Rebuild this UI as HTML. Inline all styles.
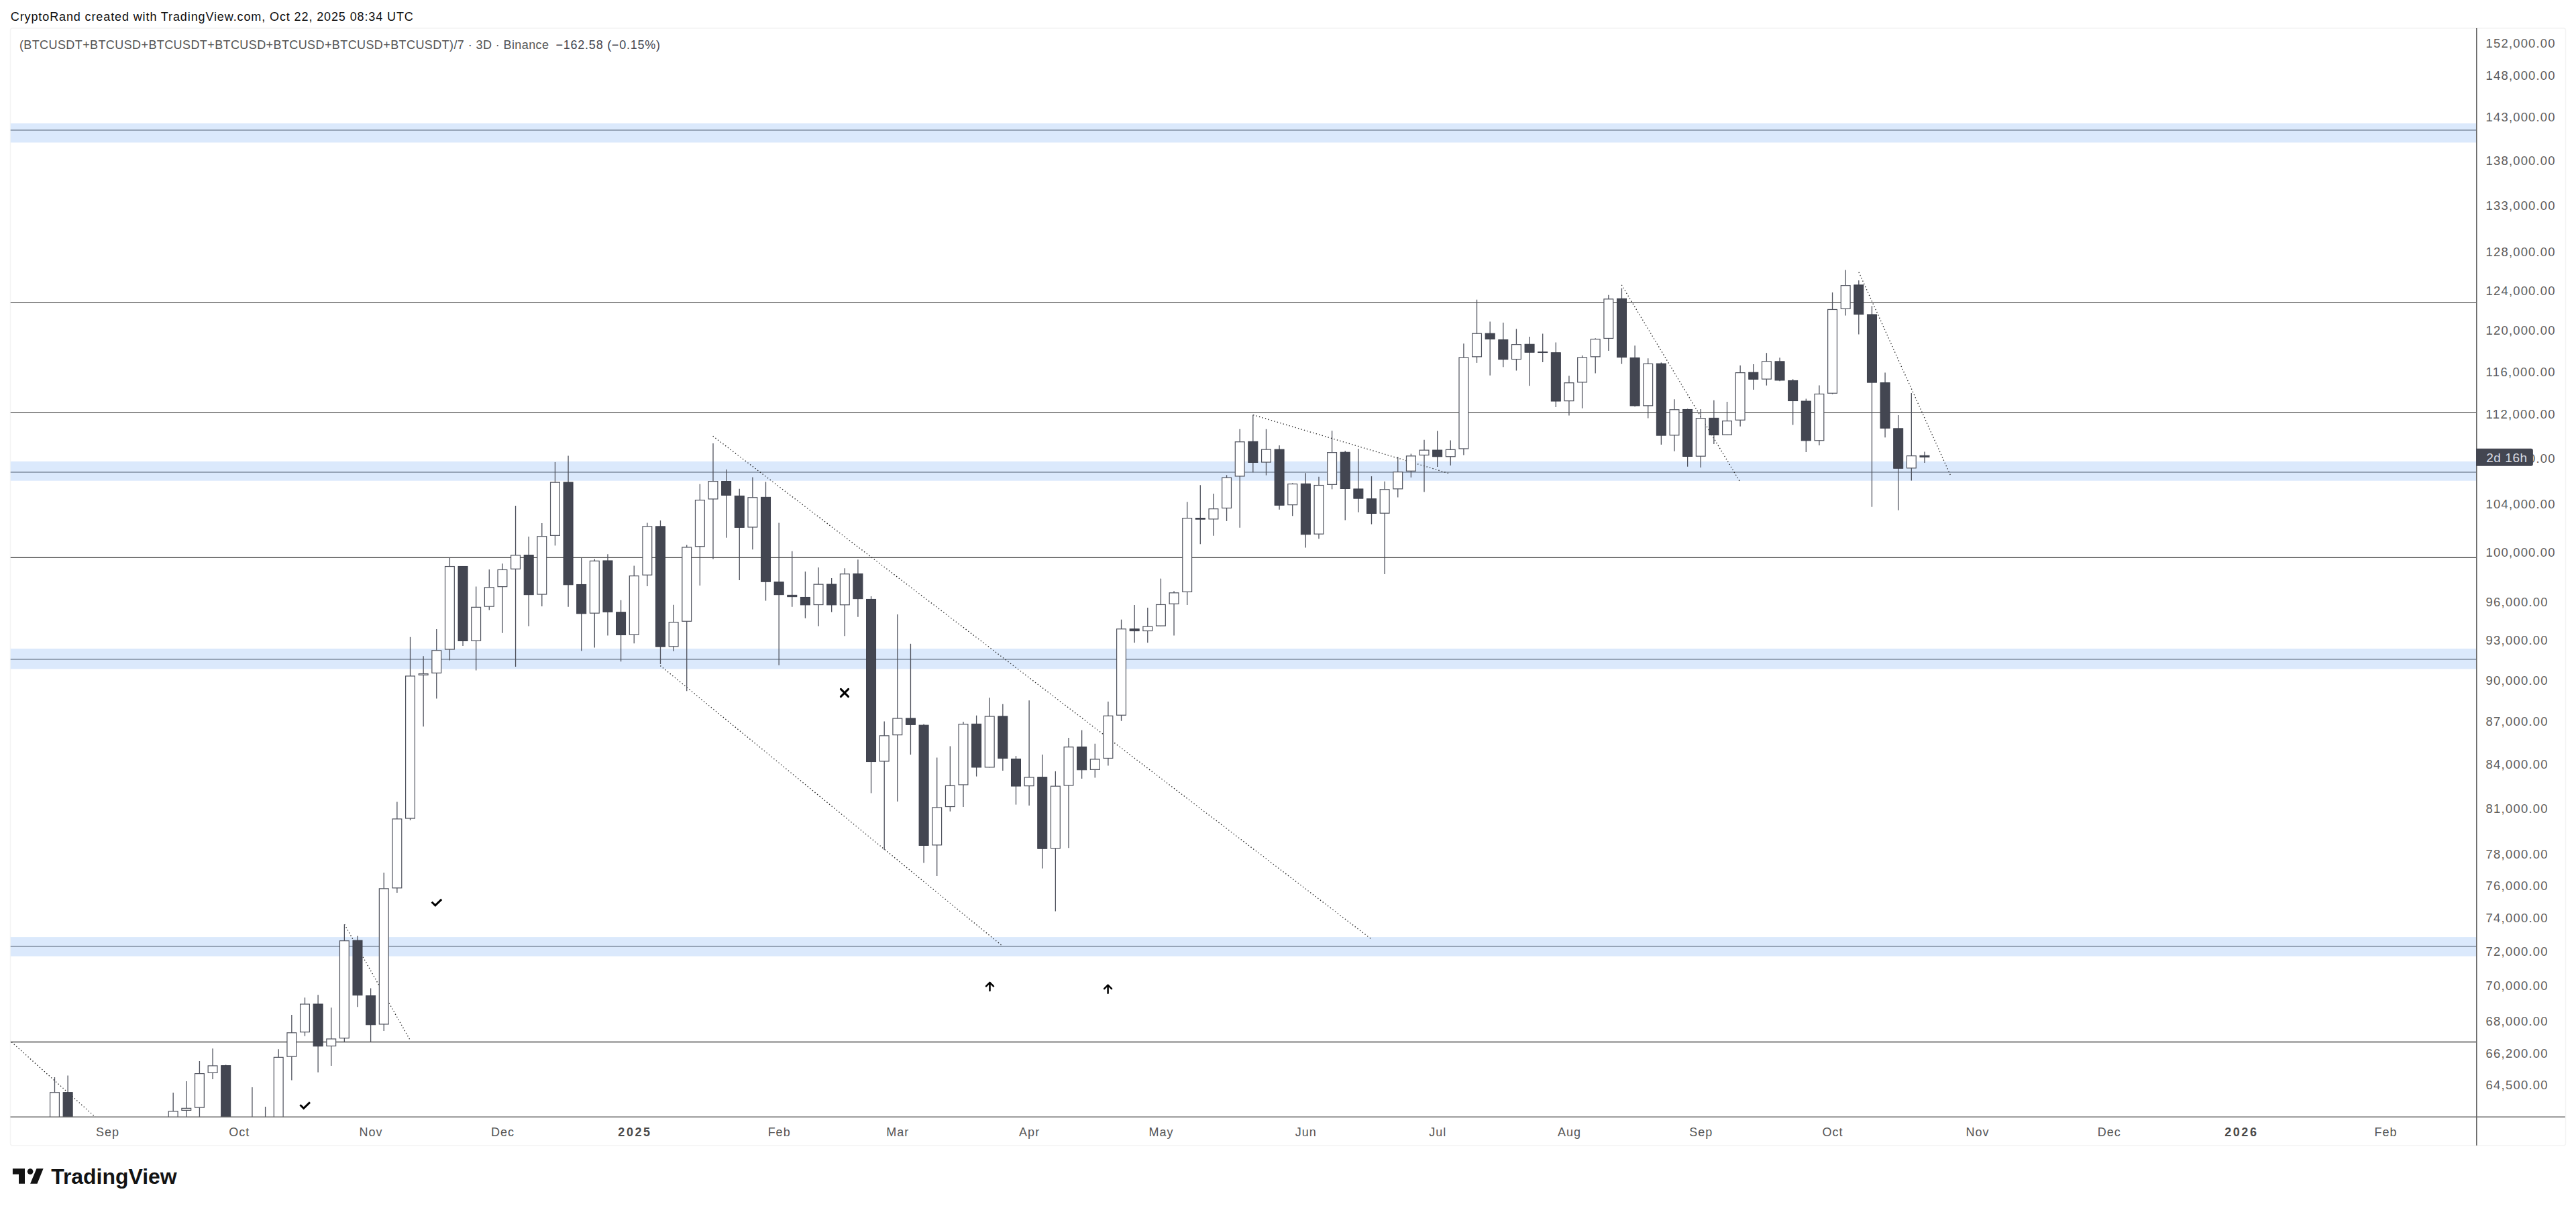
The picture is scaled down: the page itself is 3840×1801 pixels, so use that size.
<!DOCTYPE html>
<html lang="en"><head><meta charset="utf-8"><title>BTC chart</title>
<style>
html,body{margin:0;padding:0;background:#fff;}
body{width:3840px;height:1801px;overflow:hidden;position:relative;}
svg{position:absolute;left:0;top:0;display:block;}
text{font-family:"Liberation Sans",sans-serif;}
.pl{font-size:18.5px;fill:#5d5d5d;}
.tl{font-size:18px;fill:#555;text-anchor:middle;letter-spacing:1px;}
.tb{letter-spacing:0;}
.tb{font-weight:bold;fill:#4a4a4a;}
.wk{stroke:#4f525d;stroke-width:1.3;}
.cw{fill:#fff;stroke:#4f525d;stroke-width:1.2;}
.cd{fill:#434651;stroke:#3b3e4a;stroke-width:1;}
.hl{stroke:#4a4a4a;stroke-width:1.3;}
.bl{stroke:#96a4b7;stroke-width:2;}
.bd{fill:#dbe9fc;}
.dt{stroke:#222;stroke-width:1.35;stroke-dasharray:1.35 3.3;fill:none;}
.ic{stroke:#000;fill:none;}
</style></head><body>
<svg width="3840" height="1801" viewBox="0 0 3840 1801">
<defs><clipPath id="cp"><rect x="15.5" y="42" width="3676.3" height="1623.2"/></clipPath></defs>
<rect x="15.5" y="42" width="3809" height="1665.8" rx="3" fill="#fff" stroke="#f4f4f4" stroke-width="1.5"/>
<g clip-path="url(#cp)">
<rect class="bd" x="15.5" y="183.9" width="3676.3" height="28.6"/>
<line class="bl" x1="15.5" x2="3691.8" y1="194" y2="194"/>
<rect class="bd" x="15.5" y="687.9" width="3676.3" height="28.8"/>
<line class="bl" x1="15.5" x2="3691.8" y1="704" y2="704"/>
<rect class="bd" x="15.5" y="967.1" width="3676.3" height="30.3"/>
<line class="bl" x1="15.5" x2="3691.8" y1="982.9" y2="982.9"/>
<rect class="bd" x="15.5" y="1397.1" width="3676.3" height="28.6"/>
<line class="bl" x1="15.5" x2="3691.8" y1="1410.9" y2="1410.9"/>
<line class="hl" x1="15.5" x2="3691.8" y1="451.35" y2="451.35"/>
<line class="hl" x1="15.5" x2="3691.8" y1="615.05" y2="615.05"/>
<line class="hl" x1="15.5" x2="3691.8" y1="831.35" y2="831.35"/>
<line class="hl" x1="15.5" x2="3691.8" y1="1553.5" y2="1553.5"/>
<line class="dt" x1="0" y1="1538.2" x2="150" y2="1672.5"/>
<line class="dt" x1="513.5" y1="1378.2" x2="610.7" y2="1549.6"/>
<line class="dt" x1="1062.7" y1="650.2" x2="2043.6" y2="1399.6"/>
<line class="dt" x1="984.3" y1="992.5" x2="1493.8" y2="1410"/>
<line class="dt" x1="1868.1" y1="618.6" x2="2159.3" y2="705.6"/>
<line class="dt" x1="2417.3" y1="424.8" x2="2593.4" y2="717.7"/>
<line class="dt" x1="2770.9" y1="405.8" x2="2907.6" y2="708.8"/>
<line class="wk" x1="81.5" x2="81.5" y1="1606" y2="1700"/>
<rect class="cw" x="74.6" y="1628.75" width="13.8" height="70.9"/>
<line class="wk" x1="101.13" x2="101.13" y1="1603.5" y2="1700"/>
<rect class="cd" x="94.13" y="1628.65" width="14" height="71.1"/>
<line class="wk" x1="258.17" x2="258.17" y1="1629" y2="1700"/>
<rect class="cw" x="251.27" y="1656.85" width="13.8" height="42.8"/>
<line class="wk" x1="277.8" x2="277.8" y1="1612" y2="1700"/>
<rect class="cw" x="270.9" y="1652.35" width="13.8" height="3"/>
<line class="wk" x1="297.43" x2="297.43" y1="1582" y2="1700"/>
<rect class="cw" x="290.53" y="1600.65" width="13.8" height="50.5"/>
<line class="wk" x1="317.06" x2="317.06" y1="1563.3" y2="1609"/>
<rect class="cw" x="310.16" y="1588.95" width="13.8" height="10.3"/>
<line class="wk" x1="336.69" x2="336.69" y1="1587.4" y2="1700"/>
<rect class="cd" x="329.69" y="1588.65" width="14" height="111.1"/>
<line class="wk" x1="375.95" x2="375.95" y1="1621" y2="1700"/>
<line class="wk" x1="395.58" x2="395.58" y1="1650" y2="1700"/>
<line class="wk" x1="415.21" x2="415.21" y1="1564.3" y2="1700"/>
<rect class="cw" x="408.31" y="1576.35" width="13.8" height="123.3"/>
<line class="wk" x1="434.84" x2="434.84" y1="1512.9" y2="1610.5"/>
<rect class="cw" x="427.94" y="1539.75" width="13.8" height="35.4"/>
<line class="wk" x1="454.47" x2="454.47" y1="1487.3" y2="1544.7"/>
<rect class="cw" x="447.57" y="1497.05" width="13.8" height="41.6"/>
<line class="wk" x1="474.1" x2="474.1" y1="1483.3" y2="1598.8"/>
<rect class="cd" x="467.1" y="1496.95" width="14" height="62.8"/>
<line class="wk" x1="493.73" x2="493.73" y1="1502.2" y2="1588.9"/>
<rect class="cw" x="486.83" y="1548.95" width="13.8" height="10.5"/>
<line class="wk" x1="513.36" x2="513.36" y1="1378.2" y2="1553"/>
<rect class="cw" x="506.46" y="1402.65" width="13.8" height="145.1"/>
<line class="wk" x1="532.99" x2="532.99" y1="1395.3" y2="1501.2"/>
<rect class="cd" x="525.99" y="1402.05" width="14" height="81.7"/>
<line class="wk" x1="552.62" x2="552.62" y1="1473.4" y2="1553.4"/>
<rect class="cd" x="545.62" y="1484.55" width="14" height="43.2"/>
<line class="wk" x1="572.25" x2="572.25" y1="1301.1" y2="1537"/>
<rect class="cw" x="565.35" y="1324.85" width="13.8" height="202.1"/>
<line class="wk" x1="591.88" x2="591.88" y1="1195.5" y2="1331"/>
<rect class="cw" x="584.98" y="1220.95" width="13.8" height="102.9"/>
<line class="wk" x1="611.51" x2="611.51" y1="949.8" y2="1222.9"/>
<rect class="cw" x="604.61" y="1007.95" width="13.8" height="212.1"/>
<line class="wk" x1="631.14" x2="631.14" y1="978.3" y2="1083.2"/>
<rect class="cw" x="624.24" y="1004.55" width="13.8" height="1.7"/>
<line class="wk" x1="650.77" x2="650.77" y1="938.1" y2="1041.4"/>
<rect class="cw" x="643.87" y="969.75" width="13.8" height="33.6"/>
<line class="wk" x1="670.4" x2="670.4" y1="831.3" y2="984.5"/>
<rect class="cw" x="663.5" y="844.55" width="13.8" height="123.5"/>
<line class="wk" x1="690.03" x2="690.03" y1="844.2" y2="962.9"/>
<rect class="cd" x="683.03" y="844.45" width="14" height="111"/>
<line class="wk" x1="709.66" x2="709.66" y1="874.5" y2="999.4"/>
<rect class="cw" x="702.76" y="905.35" width="13.8" height="49.8"/>
<line class="wk" x1="729.29" x2="729.29" y1="848.9" y2="909.5"/>
<rect class="cw" x="722.39" y="875.85" width="13.8" height="28.3"/>
<line class="wk" x1="748.92" x2="748.92" y1="840.2" y2="943.8"/>
<rect class="cw" x="742.02" y="849.45" width="13.8" height="25.2"/>
<line class="wk" x1="768.55" x2="768.55" y1="754" y2="994"/>
<rect class="cw" x="761.65" y="827.85" width="13.8" height="20.4"/>
<line class="wk" x1="788.18" x2="788.18" y1="799.9" y2="933.6"/>
<rect class="cd" x="781.18" y="827.55" width="14" height="59.1"/>
<line class="wk" x1="807.81" x2="807.81" y1="779.9" y2="904"/>
<rect class="cw" x="800.91" y="799.75" width="13.8" height="86.3"/>
<line class="wk" x1="827.44" x2="827.44" y1="688.9" y2="813.4"/>
<rect class="cw" x="820.54" y="719.15" width="13.8" height="79.2"/>
<line class="wk" x1="847.07" x2="847.07" y1="679.5" y2="904.8"/>
<rect class="cd" x="840.07" y="719.05" width="14" height="152.7"/>
<line class="wk" x1="866.7" x2="866.7" y1="831.7" y2="970.6"/>
<rect class="cd" x="859.7" y="871.45" width="14" height="43.3"/>
<line class="wk" x1="886.33" x2="886.33" y1="833.5" y2="965.4"/>
<rect class="cw" x="879.43" y="836.35" width="13.8" height="77.8"/>
<line class="wk" x1="905.96" x2="905.96" y1="826.3" y2="947.5"/>
<rect class="cd" x="898.96" y="835.95" width="14" height="76.3"/>
<line class="wk" x1="925.59" x2="925.59" y1="894.8" y2="986.3"/>
<rect class="cd" x="918.59" y="912.75" width="14" height="33.8"/>
<line class="wk" x1="945.22" x2="945.22" y1="843.4" y2="959.2"/>
<rect class="cw" x="938.32" y="858.65" width="13.8" height="87.5"/>
<line class="wk" x1="964.85" x2="964.85" y1="779.4" y2="874"/>
<rect class="cw" x="957.95" y="784.95" width="13.8" height="72.3"/>
<line class="wk" x1="984.48" x2="984.48" y1="775.9" y2="990"/>
<rect class="cd" x="977.48" y="784.85" width="14" height="179.3"/>
<line class="wk" x1="1004.11" x2="1004.11" y1="901.8" y2="970.9"/>
<rect class="cw" x="997.21" y="927.75" width="13.8" height="36.1"/>
<line class="wk" x1="1023.74" x2="1023.74" y1="812.4" y2="1030.2"/>
<rect class="cw" x="1016.84" y="815.95" width="13.8" height="110.3"/>
<line class="wk" x1="1043.37" x2="1043.37" y1="721.7" y2="873"/>
<rect class="cw" x="1036.47" y="745.65" width="13.8" height="69.1"/>
<line class="wk" x1="1063" x2="1063" y1="661.1" y2="833.5"/>
<rect class="cw" x="1056.1" y="717.65" width="13.8" height="26.3"/>
<line class="wk" x1="1082.63" x2="1082.63" y1="699.9" y2="801.7"/>
<rect class="cd" x="1075.63" y="717.55" width="14" height="20.8"/>
<line class="wk" x1="1102.26" x2="1102.26" y1="728.7" y2="865"/>
<rect class="cd" x="1095.26" y="739.35" width="14" height="47"/>
<line class="wk" x1="1121.89" x2="1121.89" y1="711.6" y2="819.3"/>
<rect class="cw" x="1114.99" y="741.75" width="13.8" height="44.2"/>
<line class="wk" x1="1141.52" x2="1141.52" y1="718.5" y2="895.6"/>
<rect class="cd" x="1134.52" y="741.35" width="14" height="125.9"/>
<line class="wk" x1="1161.15" x2="1161.15" y1="779.6" y2="991.7"/>
<rect class="cd" x="1154.15" y="867.75" width="14" height="18.9"/>
<line class="wk" x1="1180.78" x2="1180.78" y1="821.8" y2="904.8"/>
<rect class="cd" x="1173.78" y="887.35" width="14" height="2.3"/>
<line class="wk" x1="1200.41" x2="1200.41" y1="852.2" y2="921.7"/>
<rect class="cd" x="1193.41" y="890.45" width="14" height="11.4"/>
<line class="wk" x1="1220.04" x2="1220.04" y1="846" y2="933.4"/>
<rect class="cw" x="1213.14" y="871.15" width="13.8" height="30.4"/>
<line class="wk" x1="1239.67" x2="1239.67" y1="862.1" y2="912.5"/>
<rect class="cd" x="1232.67" y="871.05" width="14" height="30.8"/>
<line class="wk" x1="1259.3" x2="1259.3" y1="847.2" y2="948.3"/>
<rect class="cw" x="1252.4" y="855.75" width="13.8" height="46"/>
<line class="wk" x1="1278.93" x2="1278.93" y1="834.3" y2="919.8"/>
<rect class="cd" x="1271.93" y="855.45" width="14" height="37.2"/>
<line class="wk" x1="1298.56" x2="1298.56" y1="888.9" y2="1182.5"/>
<rect class="cd" x="1291.56" y="893.45" width="14" height="242.1"/>
<line class="wk" x1="1318.19" x2="1318.19" y1="1075.4" y2="1267"/>
<rect class="cw" x="1311.29" y="1096.85" width="13.8" height="38.1"/>
<line class="wk" x1="1337.82" x2="1337.82" y1="916" y2="1194.9"/>
<rect class="cw" x="1330.92" y="1071.05" width="13.8" height="24.6"/>
<line class="wk" x1="1357.45" x2="1357.45" y1="959.8" y2="1125.1"/>
<rect class="cd" x="1350.45" y="1070.95" width="14" height="9.4"/>
<line class="wk" x1="1377.08" x2="1377.08" y1="1079.4" y2="1286.6"/>
<rect class="cd" x="1370.08" y="1081.15" width="14" height="179.3"/>
<line class="wk" x1="1396.71" x2="1396.71" y1="1129.6" y2="1306"/>
<rect class="cw" x="1389.81" y="1203.95" width="13.8" height="55.9"/>
<line class="wk" x1="1416.34" x2="1416.34" y1="1112.4" y2="1209.8"/>
<rect class="cw" x="1409.44" y="1171.45" width="13.8" height="31.1"/>
<line class="wk" x1="1435.97" x2="1435.97" y1="1076.1" y2="1202.9"/>
<rect class="cw" x="1429.07" y="1079.75" width="13.8" height="90.2"/>
<line class="wk" x1="1455.6" x2="1455.6" y1="1066.7" y2="1157.6"/>
<rect class="cd" x="1448.6" y="1079.35" width="14" height="64.6"/>
<line class="wk" x1="1475.23" x2="1475.23" y1="1040.2" y2="1144.2"/>
<rect class="cw" x="1468.33" y="1068.05" width="13.8" height="75.8"/>
<line class="wk" x1="1494.86" x2="1494.86" y1="1049.7" y2="1148.9"/>
<rect class="cd" x="1487.86" y="1067.95" width="14" height="62.6"/>
<line class="wk" x1="1514.49" x2="1514.49" y1="1127.1" y2="1199.6"/>
<rect class="cd" x="1507.49" y="1131.55" width="14" height="40.5"/>
<line class="wk" x1="1534.12" x2="1534.12" y1="1044.2" y2="1201.1"/>
<rect class="cw" x="1527.22" y="1158.95" width="13.8" height="12.7"/>
<line class="wk" x1="1553.75" x2="1553.75" y1="1125.1" y2="1294.8"/>
<rect class="cd" x="1546.75" y="1158.65" width="14" height="106.6"/>
<line class="wk" x1="1573.38" x2="1573.38" y1="1149.9" y2="1358.6"/>
<rect class="cw" x="1566.48" y="1172.15" width="13.8" height="92.7"/>
<line class="wk" x1="1593.01" x2="1593.01" y1="1100" y2="1264.2"/>
<rect class="cw" x="1586.11" y="1113.75" width="13.8" height="57.2"/>
<line class="wk" x1="1612.64" x2="1612.64" y1="1088.6" y2="1160.9"/>
<rect class="cd" x="1605.64" y="1113.65" width="14" height="34.1"/>
<line class="wk" x1="1632.27" x2="1632.27" y1="1108.7" y2="1159.4"/>
<rect class="cw" x="1625.37" y="1131.95" width="13.8" height="15.4"/>
<line class="wk" x1="1651.9" x2="1651.9" y1="1046" y2="1141.5"/>
<rect class="cw" x="1645" y="1067.35" width="13.8" height="63.1"/>
<line class="wk" x1="1671.53" x2="1671.53" y1="923.7" y2="1074.8"/>
<rect class="cw" x="1664.63" y="937.75" width="13.8" height="128.5"/>
<line class="wk" x1="1691.16" x2="1691.16" y1="902.1" y2="958.3"/>
<rect class="cd" x="1684.16" y="937.65" width="14" height="3"/>
<line class="wk" x1="1710.79" x2="1710.79" y1="906.1" y2="958.3"/>
<rect class="cw" x="1703.89" y="934.05" width="13.8" height="6.5"/>
<line class="wk" x1="1730.42" x2="1730.42" y1="862.6" y2="933.4"/>
<rect class="cw" x="1723.52" y="901.45" width="13.8" height="31.6"/>
<line class="wk" x1="1750.05" x2="1750.05" y1="881.2" y2="947.6"/>
<rect class="cw" x="1743.15" y="883.85" width="13.8" height="16.4"/>
<line class="wk" x1="1769.68" x2="1769.68" y1="748.3" y2="901.9"/>
<rect class="cw" x="1762.78" y="772.55" width="13.8" height="109.8"/>
<line class="wk" x1="1789.31" x2="1789.31" y1="723.2" y2="811.2"/>
<rect class="cd" x="1782.31" y="772.45" width="14" height="1.7"/>
<line class="wk" x1="1808.94" x2="1808.94" y1="736.1" y2="798.8"/>
<rect class="cw" x="1802.04" y="758.65" width="13.8" height="15.2"/>
<line class="wk" x1="1828.57" x2="1828.57" y1="708.3" y2="776.9"/>
<rect class="cw" x="1821.67" y="712.15" width="13.8" height="45.3"/>
<line class="wk" x1="1848.2" x2="1848.2" y1="639.8" y2="786.8"/>
<rect class="cw" x="1841.3" y="658.75" width="13.8" height="51.2"/>
<line class="wk" x1="1867.83" x2="1867.83" y1="618.6" y2="704.3"/>
<rect class="cd" x="1860.83" y="658.35" width="14" height="31.1"/>
<line class="wk" x1="1887.46" x2="1887.46" y1="639.8" y2="708.6"/>
<rect class="cw" x="1880.56" y="670.15" width="13.8" height="18.9"/>
<line class="wk" x1="1907.09" x2="1907.09" y1="664.1" y2="759.8"/>
<rect class="cd" x="1900.09" y="670.05" width="14" height="83.2"/>
<line class="wk" x1="1926.72" x2="1926.72" y1="720.2" y2="769.2"/>
<rect class="cw" x="1919.82" y="721.55" width="13.8" height="31.1"/>
<line class="wk" x1="1946.35" x2="1946.35" y1="705.3" y2="816.4"/>
<rect class="cd" x="1939.35" y="721.25" width="14" height="75.5"/>
<line class="wk" x1="1965.98" x2="1965.98" y1="710.8" y2="803.2"/>
<rect class="cw" x="1959.08" y="723.55" width="13.8" height="72.6"/>
<line class="wk" x1="1985.61" x2="1985.61" y1="642.2" y2="729.4"/>
<rect class="cw" x="1978.71" y="674.65" width="13.8" height="47.7"/>
<line class="wk" x1="2005.24" x2="2005.24" y1="672" y2="775.4"/>
<rect class="cd" x="1998.24" y="674.25" width="14" height="54.2"/>
<line class="wk" x1="2024.87" x2="2024.87" y1="669.1" y2="763.7"/>
<rect class="cd" x="2017.87" y="728.95" width="14" height="14.2"/>
<line class="wk" x1="2044.5" x2="2044.5" y1="710.1" y2="781.6"/>
<rect class="cd" x="2037.5" y="743.65" width="14" height="21.8"/>
<line class="wk" x1="2064.13" x2="2064.13" y1="717.8" y2="855.9"/>
<rect class="cw" x="2057.23" y="729.75" width="13.8" height="35.4"/>
<line class="wk" x1="2083.76" x2="2083.76" y1="681" y2="741.4"/>
<rect class="cw" x="2076.86" y="703.75" width="13.8" height="25.1"/>
<line class="wk" x1="2103.39" x2="2103.39" y1="676.5" y2="711.8"/>
<rect class="cw" x="2096.49" y="679.85" width="13.8" height="22.4"/>
<line class="wk" x1="2123.02" x2="2123.02" y1="655.7" y2="733.4"/>
<rect class="cw" x="2116.12" y="671.15" width="13.8" height="7.3"/>
<line class="wk" x1="2142.65" x2="2142.65" y1="642.5" y2="695.9"/>
<rect class="cd" x="2135.65" y="671.05" width="14" height="9.7"/>
<line class="wk" x1="2162.28" x2="2162.28" y1="656.5" y2="693.9"/>
<rect class="cw" x="2155.38" y="670.35" width="13.8" height="10.4"/>
<line class="wk" x1="2181.91" x2="2181.91" y1="512.3" y2="678.4"/>
<rect class="cw" x="2175.01" y="533.05" width="13.8" height="135.9"/>
<line class="wk" x1="2201.54" x2="2201.54" y1="446.7" y2="540.9"/>
<rect class="cw" x="2194.64" y="497.25" width="13.8" height="34.6"/>
<line class="wk" x1="2221.17" x2="2221.17" y1="479.5" y2="559.8"/>
<rect class="cd" x="2214.17" y="497.15" width="14" height="8.4"/>
<line class="wk" x1="2240.8" x2="2240.8" y1="481" y2="547.3"/>
<rect class="cd" x="2233.8" y="506.55" width="14" height="29.3"/>
<line class="wk" x1="2260.43" x2="2260.43" y1="490.4" y2="552.5"/>
<rect class="cw" x="2253.53" y="513.65" width="13.8" height="21.9"/>
<line class="wk" x1="2280.06" x2="2280.06" y1="502.1" y2="575.2"/>
<rect class="cd" x="2273.06" y="513.25" width="14" height="12"/>
<line class="wk" x1="2299.69" x2="2299.69" y1="497.4" y2="540.1"/>
<rect class="cd" x="2292.69" y="524.75" width="14" height="0.8"/>
<line class="wk" x1="2319.32" x2="2319.32" y1="510.6" y2="607"/>
<rect class="cd" x="2312.32" y="525.75" width="14" height="72.3"/>
<line class="wk" x1="2338.95" x2="2338.95" y1="560.2" y2="619.6"/>
<rect class="cw" x="2332.05" y="570.75" width="13.8" height="26.9"/>
<line class="wk" x1="2358.58" x2="2358.58" y1="529.9" y2="608.7"/>
<rect class="cw" x="2351.68" y="533.05" width="13.8" height="36.8"/>
<line class="wk" x1="2378.21" x2="2378.21" y1="504.3" y2="556.5"/>
<rect class="cw" x="2371.31" y="505.65" width="13.8" height="26.2"/>
<line class="wk" x1="2397.84" x2="2397.84" y1="439.8" y2="523"/>
<rect class="cw" x="2390.94" y="445.85" width="13.8" height="58.6"/>
<line class="wk" x1="2417.47" x2="2417.47" y1="429.8" y2="542.6"/>
<rect class="cd" x="2410.47" y="445.25" width="14" height="87.4"/>
<line class="wk" x1="2437.1" x2="2437.1" y1="515.3" y2="606.2"/>
<rect class="cd" x="2430.1" y="533.45" width="14" height="71.5"/>
<line class="wk" x1="2456.73" x2="2456.73" y1="534.2" y2="623.4"/>
<rect class="cw" x="2449.83" y="542.45" width="13.8" height="62.4"/>
<line class="wk" x1="2476.36" x2="2476.36" y1="540.4" y2="662.9"/>
<rect class="cd" x="2469.36" y="542.15" width="14" height="107"/>
<line class="wk" x1="2495.99" x2="2495.99" y1="595.3" y2="672.8"/>
<rect class="cw" x="2489.09" y="610.75" width="13.8" height="38.1"/>
<line class="wk" x1="2515.62" x2="2515.62" y1="609.4" y2="695.7"/>
<rect class="cd" x="2508.62" y="610.45" width="14" height="70"/>
<line class="wk" x1="2535.25" x2="2535.25" y1="609.9" y2="696.9"/>
<rect class="cw" x="2528.35" y="623.75" width="13.8" height="56.4"/>
<line class="wk" x1="2554.88" x2="2554.88" y1="596.8" y2="661.9"/>
<rect class="cd" x="2547.88" y="623.35" width="14" height="25.1"/>
<line class="wk" x1="2574.51" x2="2574.51" y1="599" y2="648.4"/>
<rect class="cw" x="2567.61" y="627.65" width="13.8" height="20.4"/>
<line class="wk" x1="2594.14" x2="2594.14" y1="544.8" y2="635.8"/>
<rect class="cw" x="2587.24" y="555.65" width="13.8" height="70.6"/>
<line class="wk" x1="2613.77" x2="2613.77" y1="543.1" y2="580.9"/>
<rect class="cd" x="2606.77" y="555.25" width="14" height="10.2"/>
<line class="wk" x1="2633.4" x2="2633.4" y1="526.2" y2="574.7"/>
<rect class="cw" x="2626.5" y="538.95" width="13.8" height="26.2"/>
<line class="wk" x1="2653.03" x2="2653.03" y1="533.2" y2="568.2"/>
<rect class="cd" x="2646.03" y="538.85" width="14" height="28.1"/>
<line class="wk" x1="2672.66" x2="2672.66" y1="565.2" y2="633.5"/>
<rect class="cd" x="2665.66" y="567.45" width="14" height="30.1"/>
<line class="wk" x1="2692.29" x2="2692.29" y1="594.5" y2="674"/>
<rect class="cd" x="2685.29" y="598.05" width="14" height="58.8"/>
<line class="wk" x1="2711.92" x2="2711.92" y1="574.4" y2="663.9"/>
<rect class="cw" x="2705.02" y="587.45" width="13.8" height="69.3"/>
<line class="wk" x1="2731.55" x2="2731.55" y1="436" y2="587.6"/>
<rect class="cw" x="2724.65" y="461.45" width="13.8" height="124.8"/>
<line class="wk" x1="2751.18" x2="2751.18" y1="402.5" y2="470.6"/>
<rect class="cw" x="2744.28" y="425.65" width="13.8" height="34.6"/>
<line class="wk" x1="2770.81" x2="2770.81" y1="417.9" y2="498.6"/>
<rect class="cd" x="2763.81" y="424.85" width="14" height="43.7"/>
<line class="wk" x1="2790.44" x2="2790.44" y1="456.2" y2="755.8"/>
<rect class="cd" x="2783.44" y="468.95" width="14" height="101.2"/>
<line class="wk" x1="2810.07" x2="2810.07" y1="555.5" y2="652.2"/>
<rect class="cd" x="2803.07" y="570.65" width="14" height="67.7"/>
<line class="wk" x1="2829.7" x2="2829.7" y1="619.1" y2="760.8"/>
<rect class="cd" x="2822.7" y="638.85" width="14" height="59.4"/>
<line class="wk" x1="2849.33" x2="2849.33" y1="586" y2="716.4"/>
<rect class="cw" x="2842.43" y="679.65" width="13.8" height="18.2"/>
<line class="wk" x1="2868.96" x2="2868.96" y1="673.4" y2="689.9"/>
<rect class="cd" x="2861.96" y="679.25" width="14" height="2.2"/>
<polyline class="ic" stroke-width="2.9" stroke-linejoin="miter" points="643.6,1344.8 648.85,1349.9 658.2,1340.9"/>
<polyline class="ic" stroke-width="2.9" stroke-linejoin="miter" points="447.4,1647.3 452.65,1652.4 462,1643.4"/>
<path class="ic" stroke-width="3" stroke-linecap="round" d="M1253.4 1027.4L1264.6 1038.6M1264.6 1027.4L1253.4 1038.6"/>
<path class="ic" stroke-width="2.5" stroke-linecap="round" stroke-linejoin="round" d="M1475.5 1476.9L1475.5 1465.3M1470 1470.4L1475.5 1464.9L1481 1470.4"/>
<path class="ic" stroke-width="2.5" stroke-linecap="round" stroke-linejoin="round" d="M1651.6 1480.7L1651.6 1469.1M1646.1 1474.2L1651.6 1468.7L1657.1 1474.2"/>
</g>
<line x1="3691.8" x2="3691.8" y1="42" y2="1707.8" stroke="#666" stroke-width="1.6"/>
<line x1="15.5" x2="3823.9" y1="1665.2" y2="1665.2" stroke="#666" stroke-width="1.6"/>
<text class="pl" x="3705.6" y="70.6" textLength="103" lengthAdjust="spacing">152,000.00</text>
<text class="pl" x="3705.6" y="118.94" textLength="103" lengthAdjust="spacing">148,000.00</text>
<text class="pl" x="3705.6" y="181.23" textLength="103" lengthAdjust="spacing">143,000.00</text>
<text class="pl" x="3705.6" y="245.75" textLength="103" lengthAdjust="spacing">138,000.00</text>
<text class="pl" x="3705.6" y="312.64" textLength="103" lengthAdjust="spacing">133,000.00</text>
<text class="pl" x="3705.6" y="382.1" textLength="103" lengthAdjust="spacing">128,000.00</text>
<text class="pl" x="3705.6" y="439.64" textLength="103" lengthAdjust="spacing">124,000.00</text>
<text class="pl" x="3705.6" y="499.08" textLength="103" lengthAdjust="spacing">120,000.00</text>
<text class="pl" x="3705.6" y="560.53" textLength="103" lengthAdjust="spacing">116,000.00</text>
<text class="pl" x="3705.6" y="624.13" textLength="103" lengthAdjust="spacing">112,000.00</text>
<text class="pl" x="3705.6" y="690.05" textLength="103" lengthAdjust="spacing">108,000.00</text>
<text class="pl" x="3705.6" y="758.46" textLength="103" lengthAdjust="spacing">104,000.00</text>
<text class="pl" x="3705.6" y="829.55" textLength="103" lengthAdjust="spacing">100,000.00</text>
<text class="pl" x="3705.6" y="903.55" textLength="91.9" lengthAdjust="spacing">96,000.00</text>
<text class="pl" x="3705.6" y="961.1" textLength="91.9" lengthAdjust="spacing">93,000.00</text>
<text class="pl" x="3705.6" y="1020.53" textLength="91.9" lengthAdjust="spacing">90,000.00</text>
<text class="pl" x="3705.6" y="1081.98" textLength="91.9" lengthAdjust="spacing">87,000.00</text>
<text class="pl" x="3705.6" y="1145.59" textLength="91.9" lengthAdjust="spacing">84,000.00</text>
<text class="pl" x="3705.6" y="1211.51" textLength="91.9" lengthAdjust="spacing">81,000.00</text>
<text class="pl" x="3705.6" y="1279.92" textLength="91.9" lengthAdjust="spacing">78,000.00</text>
<text class="pl" x="3705.6" y="1327" textLength="91.9" lengthAdjust="spacing">76,000.00</text>
<text class="pl" x="3705.6" y="1375.34" textLength="91.9" lengthAdjust="spacing">74,000.00</text>
<text class="pl" x="3705.6" y="1425" textLength="91.9" lengthAdjust="spacing">72,000.00</text>
<text class="pl" x="3705.6" y="1476.06" textLength="91.9" lengthAdjust="spacing">70,000.00</text>
<text class="pl" x="3705.6" y="1528.61" textLength="91.9" lengthAdjust="spacing">68,000.00</text>
<text class="pl" x="3705.6" y="1577.23" textLength="91.9" lengthAdjust="spacing">66,200.00</text>
<text class="pl" x="3705.6" y="1624.39" textLength="91.9" lengthAdjust="spacing">64,500.00</text>
<path d="M3691 668.7H3772.9a3 3 0 0 1 3 3V691.8a3 3 0 0 1 -3 3H3691Z" fill="#434651"/>
<text x="3706.2" y="689.2" font-size="19" fill="#d9dbe2" textLength="61" lengthAdjust="spacing">2d 16h</text>
<text class="tl" x="160.52" y="1693.9">Sep</text>
<text class="tl" x="356.82" y="1693.9">Oct</text>
<text class="tl" x="553.12" y="1693.9">Nov</text>
<text class="tl" x="749.42" y="1693.9">Dec</text>
<text class="tl tb" x="945.22" y="1693.9" textLength="47.8" lengthAdjust="spacing">2025</text>
<text class="tl" x="1161.65" y="1693.9">Feb</text>
<text class="tl" x="1338.32" y="1693.9">Mar</text>
<text class="tl" x="1534.62" y="1693.9">Apr</text>
<text class="tl" x="1730.92" y="1693.9">May</text>
<text class="tl" x="1946.85" y="1693.9">Jun</text>
<text class="tl" x="2143.15" y="1693.9">Jul</text>
<text class="tl" x="2339.45" y="1693.9">Aug</text>
<text class="tl" x="2535.75" y="1693.9">Sep</text>
<text class="tl" x="2732.05" y="1693.9">Oct</text>
<text class="tl" x="2947.98" y="1693.9">Nov</text>
<text class="tl" x="3144.28" y="1693.9">Dec</text>
<text class="tl tb" x="3340.08" y="1693.9" textLength="47.8" lengthAdjust="spacing">2026</text>
<text class="tl" x="3556.51" y="1693.9">Feb</text>
<text x="15.8" y="30.8" font-size="18" fill="#0f0f0f" textLength="600" lengthAdjust="spacing">CryptoRand created with TradingView.com, Oct 22, 2025 08:34 UTC</text>
<text x="28.9" y="72.6" font-size="18" fill="#555" textLength="789.1" lengthAdjust="spacing">(BTCUSDT+BTCUSD+BTCUSDT+BTCUSD+BTCUSD+BTCUSD+BTCUSDT)/7 · 3D · Binance</text>
<text x="828.6" y="72.6" font-size="18" fill="#434651" textLength="155.3" lengthAdjust="spacing">−162.58 (−0.15%)</text>
<g fill="#131313">
<path d="M18.9 1742.3H37V1764.8H28V1750.7H18.9Z"/>
<circle cx="45.1" cy="1746.6" r="4.3"/>
<path d="M54.5 1742.3H64.6L55.5 1764.8H45.1Z"/>
<text x="76.2" y="1764.8" font-size="31" font-weight="bold" textLength="187.5" lengthAdjust="spacingAndGlyphs">TradingView</text>
</g>
</svg>
</body></html>
